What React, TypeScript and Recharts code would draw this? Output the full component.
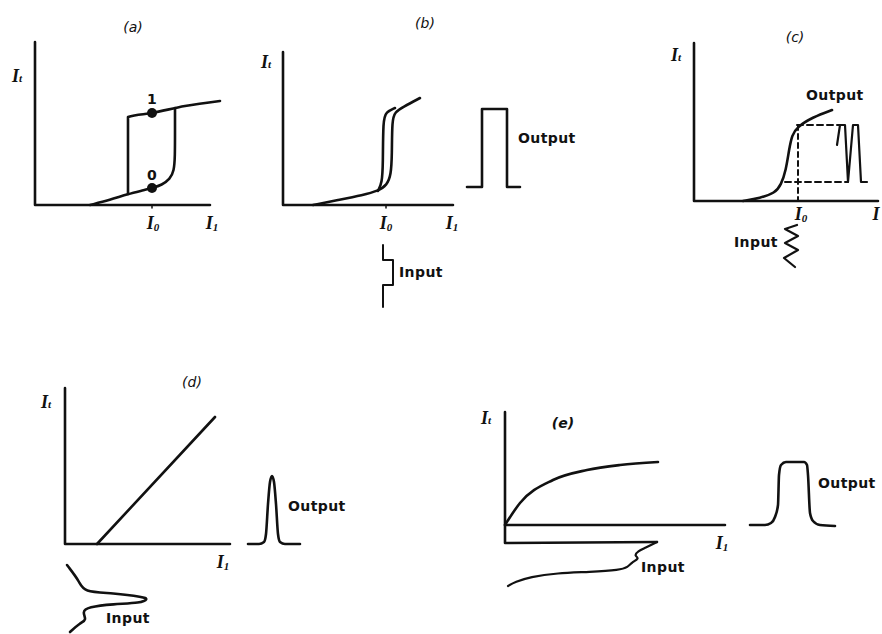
import React from 'react';
import { LineChart, Line, XAxis, YAxis, ReferenceDot } from 'recharts';

type Pt = { x: number; y: number };

// (a) bistable loop; currents measured from the panel origin, y upward
const aAxes: Pt[] = [{ x: 0, y: 163 }, { x: 0, y: 0 }, { x: 175, y: 0 }];
const aTick: Pt[] = [{ x: 117, y: 0 }, { x: 117, y: -3 }];
const aLower: Pt[] = [
  { x: 55, y: 0 }, { x: 75, y: 5 }, { x: 93, y: 11 }, { x: 110, y: 15 }, { x: 117, y: 17 },
  { x: 127, y: 20 }, { x: 135, y: 26 }, { x: 139, y: 34 }, { x: 140, y: 48 }, { x: 140, y: 75 }, { x: 140, y: 97 },
];
const aUpper: Pt[] = [
  { x: 93, y: 11 }, { x: 93, y: 88 }, { x: 117, y: 92 }, { x: 150, y: 99 }, { x: 185, y: 104 },
];
const aStates: Pt[] = [{ x: 117, y: 17 }, { x: 117, y: 92 }];

// (b) narrow loop with square output
const bAxes: Pt[] = [{ x: 0, y: 153 }, { x: 0, y: 0 }, { x: 170, y: 0 }];
const bTick: Pt[] = [{ x: 103, y: 0 }, { x: 103, y: -3 }];
const bRight: Pt[] = [
  { x: 30, y: 0 }, { x: 55, y: 5 }, { x: 80, y: 10 }, { x: 95, y: 14 }, { x: 104, y: 20 },
  { x: 108, y: 30 }, { x: 109, y: 50 }, { x: 109, y: 85 }, { x: 112, y: 93 }, { x: 120, y: 98 }, { x: 137, y: 107 },
];
const bLeft: Pt[] = [
  { x: 95, y: 14 }, { x: 99, y: 22 }, { x: 100, y: 40 }, { x: 100, y: 85 }, { x: 103, y: 93 }, { x: 112, y: 97 },
];
const bOutput: Pt[] = [
  { x: 184, y: 18 }, { x: 199, y: 18 }, { x: 199, y: 96 }, { x: 224, y: 96 }, { x: 224, y: 18 }, { x: 237, y: 18 },
];
const bInput: Pt[] = [
  { x: 100, y: -40 }, { x: 100, y: -55 }, { x: 110, y: -55 }, { x: 110, y: -80 }, { x: 100, y: -80 }, { x: 100, y: -102 },
];

// (c) steep transfer curve, limiter
const cAxes: Pt[] = [{ x: 0, y: 158 }, { x: 0, y: 0 }, { x: 184, y: 0 }];
const cCurve: Pt[] = [
  { x: 49, y: 0 }, { x: 66, y: 3 }, { x: 81, y: 8 }, { x: 87, y: 16 }, { x: 92, y: 31 },
  { x: 95, y: 51 }, { x: 98, y: 66 }, { x: 103, y: 74 }, { x: 119, y: 84 }, { x: 138, y: 91 },
];
const cHigh: Pt[] = [{ x: 103, y: 76 }, { x: 146, y: 76 }];
const cLow: Pt[] = [{ x: 91, y: 19 }, { x: 154, y: 19 }];
const cBias: Pt[] = [{ x: 104, y: 76 }, { x: 104, y: 0 }];
const cOutput: Pt[] = [
  { x: 143, y: 56 }, { x: 146, y: 76 }, { x: 151, y: 76 }, { x: 154, y: 19 },
  { x: 159, y: 76 }, { x: 164, y: 76 }, { x: 167, y: 19 }, { x: 173, y: 19 },
];
const cInput: Pt[] = [
  { x: 103, y: -24 }, { x: 91, y: -28 }, { x: 104, y: -35 }, { x: 91, y: -42 },
  { x: 104, y: -49 }, { x: 90, y: -57 }, { x: 101, y: -66 },
];

// (d) linear response above threshold
const dAxes: Pt[] = [{ x: 0, y: 156 }, { x: 0, y: 0 }, { x: 165, y: 0 }];
const dLine: Pt[] = [{ x: 32, y: 0 }, { x: 150, y: 127 }];
const dOutput: Pt[] = [
  { x: 183, y: 0 }, { x: 194, y: 0 }, { x: 199, y: 2 }, { x: 201, y: 10 }, { x: 203, y: 40 },
  { x: 205, y: 62 }, { x: 207, y: 68 }, { x: 209, y: 62 }, { x: 211, y: 40 }, { x: 213, y: 10 },
  { x: 215, y: 2 }, { x: 220, y: 0 }, { x: 235, y: 0 },
];
const dInput: Pt[] = [
  { x: 2, y: -21 }, { x: 15, y: -38 }, { x: 18, y: -48 }, { x: 48, y: -49 }, { x: 79, y: -53 },
  { x: 83, y: -55 }, { x: 76, y: -59 }, { x: 48, y: -60 }, { x: 23, y: -63 }, { x: 17, y: -68 },
  { x: 22, y: -76 }, { x: 15, y: -79 }, { x: 5, y: -88 },
];

// (e) saturating response
const eAxes: Pt[] = [{ x: 0, y: 113 }, { x: 0, y: 0 }, { x: 220, y: 0 }];
const eCurve: Pt[] = [
  { x: 0, y: 0 }, { x: 15, y: 22 }, { x: 48, y: 45 }, { x: 82, y: 55 }, { x: 115, y: 60 }, { x: 153, y: 63 },
];
const eInputAxis: Pt[] = [{ x: 0, y: 0 }, { x: 0, y: -18 }, { x: 152, y: -17 }];
const eInput: Pt[] = [
  { x: 152, y: -17 }, { x: 140, y: -23 }, { x: 133, y: -26 }, { x: 129, y: -31 }, { x: 135, y: -33 },
  { x: 126, y: -38 }, { x: 123, y: -42 }, { x: 115, y: -45 }, { x: 85, y: -47 }, { x: 52, y: -48 },
  { x: 25, y: -52 }, { x: 10, y: -57 }, { x: 3, y: -61 },
];
const eOutput: Pt[] = [
  { x: 245, y: 0 }, { x: 260, y: 0 }, { x: 266, y: 2 }, { x: 270, y: 8 }, { x: 273, y: 20 },
  { x: 274, y: 50 }, { x: 276, y: 60 }, { x: 281, y: 63 }, { x: 299, y: 63 }, { x: 302, y: 60 },
  { x: 303, y: 50 }, { x: 305, y: 12 }, { x: 308, y: 4 }, { x: 315, y: 0 }, { x: 330, y: -1 },
];

const INK = '#111';
const SW = 2.6;

type Box = { left: number; top: number; width: number; height: number; ox: number; oy: number };

const boxA: Box = { left: 0, top: 30, width: 240, height: 200, ox: 35, oy: 205 };
const boxB: Box = { left: 250, top: 40, width: 300, height: 280, ox: 283, oy: 205 };
const boxC: Box = { left: 660, top: 30, width: 222, height: 250, ox: 694, oy: 201 };
const boxD: Box = { left: 20, top: 375, width: 300, height: 259, ox: 65, oy: 544 };
const boxE: Box = { left: 470, top: 400, width: 412, height: 200, ox: 505, oy: 525 };

const trace = (key: string, data: Pt[], type: any = 'linear', dash?: string, width = SW) => (
  <Line
    key={key}
    data={data}
    dataKey="y"
    type={type}
    stroke={INK}
    strokeWidth={width}
    strokeDasharray={dash}
    strokeLinecap="round"
    strokeLinejoin="round"
    dot={false}
    activeDot={false}
    isAnimationActive={false}
  />
);

const Panel = ({ box, children }: { box: Box; children: React.ReactNode }) => (
  <div style={{ position: 'absolute', left: box.left, top: box.top }}>
    <LineChart width={box.width} height={box.height} margin={{ top: 0, right: 0, bottom: 0, left: 0 }}>
      <XAxis type="number" dataKey="x" hide domain={[box.left - box.ox, box.left + box.width - box.ox]} />
      <YAxis type="number" hide domain={[box.oy - box.top - box.height, box.oy - box.top]} />
      {children}
    </LineChart>
  </div>
);

const sans = "'DejaVu Sans', sans-serif";
const serif = "'Liberation Serif', 'DejaVu Serif', serif";

const Txt = ({ x, y, children, size = 14, italic = false, anchor = 'left', weight = 'bold' }: any) => (
  <div
    style={{
      position: 'absolute',
      left: x,
      top: y,
      transform: anchor === 'center' ? 'translate(-50%, -50%)' : 'translate(0, -50%)',
      fontFamily: sans,
      fontSize: size,
      fontWeight: weight,
      fontStyle: italic ? 'italic' : 'normal',
      letterSpacing: italic ? 0 : 0.4,
      color: INK,
      whiteSpace: 'nowrap',
      lineHeight: 1,
    }}
  >
    {children}
  </div>
);

const Cur = ({ x, y, sub }: { x: number; y: number; sub: string }) => (
  <div
    style={{
      position: 'absolute',
      left: x,
      top: y,
      transform: 'translate(-50%, -50%)',
      fontFamily: serif,
      fontSize: 18,
      fontWeight: 'bold',
      fontStyle: 'italic',
      color: INK,
      whiteSpace: 'nowrap',
      lineHeight: 1,
    }}
  >
    I<span style={{ fontSize: 11, verticalAlign: sub === 't' ? 'baseline' : '-2px' }}>{sub}</span>
  </div>
);

export default function App() {
  return (
    <div style={{ position: 'absolute', left: 0, top: 0, width: 882, height: 634, background: '#fff', overflow: 'hidden' }}>
      <Panel box={boxA}>
        {trace('a-axes', aAxes)}
        {trace('a-tick', aTick, 'linear', undefined, 1.5)}
        {trace('a-lower', aLower, 'basis')}
        {trace('a-upper', aUpper, 'monotone')}
        {aStates.map((p, i) => (
          <ReferenceDot key={`s${i}`} x={p.x} y={p.y} r={5} fill={INK} stroke="none" />
        ))}
      </Panel>
      <Panel box={boxB}>
        {trace('b-axes', bAxes)}
        {trace('b-tick', bTick, 'linear', undefined, 1.5)}
        {trace('b-right', bRight, 'basis')}
        {trace('b-left', bLeft, 'basis')}
        {trace('b-out', bOutput)}
        {trace('b-in', bInput, 'linear', undefined, 2)}
      </Panel>
      <Panel box={boxC}>
        {trace('c-axes', cAxes)}
        {trace('c-curve', cCurve, 'basis')}
        {trace('c-high', cHigh, 'linear', '6 4', 2)}
        {trace('c-low', cLow, 'linear', '6 4', 2)}
        {trace('c-bias', cBias, 'linear', '5 4', 2)}
        {trace('c-out', cOutput, 'linear', undefined, 2.2)}
        {trace('c-in', cInput, 'linear', undefined, 2.2)}
      </Panel>
      <Panel box={boxD}>
        {trace('d-axes', dAxes)}
        {trace('d-line', dLine)}
        {trace('d-out', dOutput, 'monotone')}
        {trace('d-in', dInput, 'basis')}
      </Panel>
      <Panel box={boxE}>
        {trace('e-axes', eAxes)}
        {trace('e-curve', eCurve, 'monotone')}
        {trace('e-in-axis', eInputAxis)}
        {trace('e-in', eInput, 'basis', undefined, 2.2)}
        {trace('e-out', eOutput, 'monotone')}
      </Panel>

      {/* (a) */}
      <Txt x={133} y={27} italic weight="normal" anchor="center">(a)</Txt>
      <Cur x={17} y={76} sub="t" />
      <Txt x={152} y={99} anchor="center">1</Txt>
      <Txt x={152} y={175} anchor="center">0</Txt>
      <Cur x={153} y={223} sub="0" />
      <Cur x={212} y={223} sub="1" />

      {/* (b) */}
      <Txt x={425} y={23} italic weight="normal" anchor="center">(b)</Txt>
      <Cur x={266} y={62} sub="t" />
      <Cur x={386} y={223} sub="0" />
      <Cur x={452} y={223} sub="1" />
      <Txt x={518} y={138}>Output</Txt>
      <Txt x={399} y={272}>Input</Txt>

      {/* (c) */}
      <Txt x={795} y={37} italic weight="normal" anchor="center">(c)</Txt>
      <Cur x={676} y={55} sub="t" />
      <Txt x={806} y={95}>Output</Txt>
      <Cur x={801} y={214} sub="0" />
      <Cur x={876} y={214} sub="" />
      <Txt x={734} y={242}>Input</Txt>

      {/* (d) */}
      <Txt x={192} y={382} italic weight="normal" anchor="center">(d)</Txt>
      <Cur x={46} y={402} sub="t" />
      <Cur x={223} y={562} sub="1" />
      <Txt x={288} y={506}>Output</Txt>
      <Txt x={106} y={618}>Input</Txt>

      {/* (e) */}
      <Txt x={563} y={423} italic anchor="center">(e)</Txt>
      <Cur x={486} y={418} sub="t" />
      <Cur x={722} y={543} sub="1" />
      <Txt x={818} y={483}>Output</Txt>
      <Txt x={641} y={567}>Input</Txt>
    </div>
  );
}
